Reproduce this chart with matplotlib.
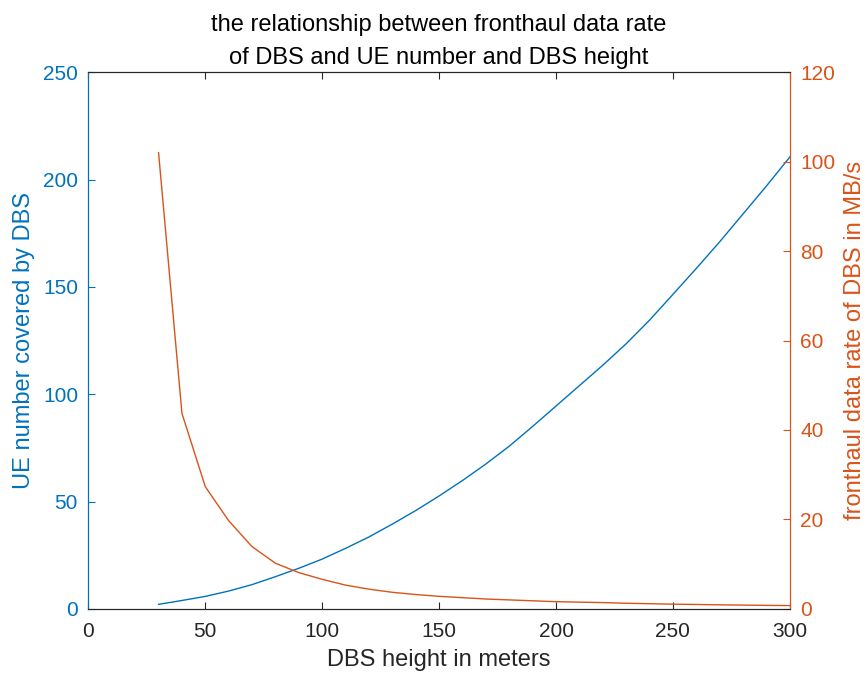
import matplotlib
matplotlib.use("Agg")
import matplotlib.pyplot as plt

plt.rcParams['font.family'] = ['Liberation Sans', 'DejaVu Sans']

heights = [30, 40, 50, 60, 70, 80, 90, 100, 110, 120, 130, 140, 150, 160, 170,
           180, 190, 200, 210, 220, 230, 240, 250, 260, 270, 280, 290, 300]
ue_number = [2.1, 3.9, 5.8, 8.3, 11.3, 15.0, 18.9, 23.2, 28.2, 33.5, 39.5, 45.8,
             52.6, 59.8, 67.5, 75.8, 85.0, 94.5, 104.0, 113.5, 123.5, 134.5,
             146.5, 158.6, 171.0, 184.0, 197.0, 210.5]
fronthaul_rate = [102.0, 43.7, 27.3, 19.7, 13.9, 10.2, 8.1, 6.6, 5.3, 4.4, 3.7,
                  3.2, 2.8, 2.5, 2.2, 2.0, 1.8, 1.6, 1.5, 1.4, 1.25, 1.15, 1.05,
                  0.98, 0.9, 0.84, 0.78, 0.73]

x_ticks = [0, 50, 100, 150, 200, 250, 300]
left_ticks = [0, 50, 100, 150, 200, 250]
right_ticks = [0, 20, 40, 60, 80, 100, 120]

blue = '#0072BD'
orange = '#D95319'
gray = '#262626'

fig = plt.figure(figsize=(8.67, 6.75), dpi=100)
ax = fig.add_axes([0.102, 0.098, 0.809, 0.795])
ax2 = ax.twinx()

ax.plot(heights, ue_number, color=blue, lw=1.0)
ax2.plot(heights, fronthaul_rate, color=orange, lw=1.0)

ax.set_xlim(0, 300)
ax.set_ylim(0, 250)
ax2.set_ylim(0, 120)
ax.set_xticks(x_ticks)
ax.set_yticks(left_ticks)
ax2.set_yticks(right_ticks)

fs = 15
ax.tick_params(axis='x', direction='in', length=5, width=0.8, colors=gray,
               labelsize=fs, top=True, pad=9.5)
ax.tick_params(axis='y', direction='in', length=5, width=0.8, colors=blue,
               labelsize=fs, pad=7.5)
ax2.tick_params(axis='y', direction='in', length=5, width=0.8, colors=orange,
                labelsize=fs, pad=7.5)

for a in (ax, ax2):
    a.spines['top'].set_color(gray)
    a.spines['bottom'].set_color(gray)
    a.spines['left'].set_color(blue)
    a.spines['right'].set_color(orange)
    for s in a.spines.values():
        s.set_linewidth(0.8)

lfs = 17
ax.set_xlabel('DBS height in meters', fontsize=lfs, color=gray, labelpad=6)
ax.set_ylabel('UE number covered by DBS', fontsize=lfs, color=blue, labelpad=6)
ax2.set_ylabel('fronthaul data rate of DBS in MB/s', fontsize=lfs, color=orange,
               rotation=90, labelpad=6)
ax.set_title('the relationship between fronthaul data rate\nof DBS and UE number and DBS height',
             fontsize=17, color='black', pad=6, linespacing=1.65)

fig.savefig('out.png', dpi=100)
